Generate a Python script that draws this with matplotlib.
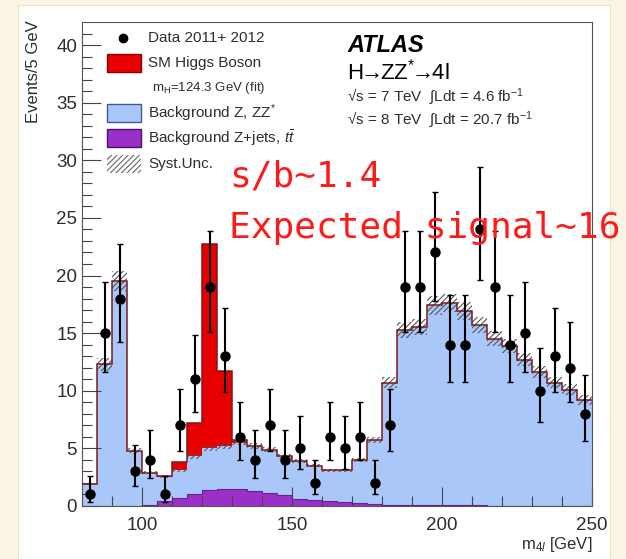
import numpy as np
import matplotlib
matplotlib.use("Agg")
import matplotlib.pyplot as plt
from matplotlib.patches import Rectangle
from matplotlib.lines import Line2D

plt.rcParams['font.family'] = ['Liberation Sans', 'DejaVu Sans']
plt.rcParams['mathtext.fontset'] = 'custom'
plt.rcParams['mathtext.rm'] = 'Liberation Sans'
plt.rcParams['mathtext.it'] = 'Liberation Sans:italic'
plt.rcParams['hatch.linewidth'] = 0.8

# m4l binning: 5 GeV bins from 80 to 250 GeV
edges = np.arange(80, 255, 5)

data = [1, 15, 18, 3, 4, 1, 7, 11, 19, 13,
        6, 4, 7, 4, 5, 2, 6, 5, 6, 2,
        7, 19, 19, 22, 14, 14, 24, 19, 14, 15,
        10, 13, 12, 8]

# top of the full background stack (Z+jets/ttbar + ZZ*)
bkg_total = [1.9, 12.3, 19.5, 4.8, 2.9, 2.5, 3.1, 4.3, 5.0, 5.2,
             5.5, 5.2, 4.9, 4.3, 3.9, 3.5, 3.1, 3.1, 4.0, 5.7,
             10.7, 15.3, 15.5, 17.4, 17.6, 16.9, 15.7, 14.5, 13.9, 12.7,
             11.6, 10.7, 10.1, 9.2]

zjets = [0.0, 0.0, 0.02, 0.03, 0.1, 0.4, 0.7, 1.05, 1.35, 1.45,
         1.45, 1.3, 1.15, 0.95, 0.65, 0.5, 0.4, 0.35, 0.25, 0.2,
         0.1, 0.1, 0.1, 0.1, 0.1, 0.1, 0.1, 0.03, 0.03, 0.03,
         0.03, 0.03, 0.03, 0.03]

signal = [0, 0, 0, 0, 0, 0.1, 0.7, 2.9, 17.7, 6.5,
          0.2, 0.05, 0, 0, 0, 0, 0, 0, 0, 0,
          0, 0, 0, 0, 0, 0, 0, 0, 0, 0,
          0, 0, 0, 0]

syst_frac = 0.045

c_red = '#e80000'
c_blue = '#a9c8f9'
c_purple = '#9a30c8'
c_outline = '#7a1a1a'
c_text = '#2e2e2e'

W, H = 626, 559


def px(x, y):
    return x / W, 1 - y / H


fig = plt.figure(figsize=(W / 100, H / 100), dpi=100)
fig.patch.set_facecolor('#faf5e3')
fig.patches.append(Rectangle((18 / W, 0), (610 - 18) / W, 1 - 5 / H,
                             transform=fig.transFigure, facecolor='white',
                             edgecolor='#ebe2c4', lw=0.8, zorder=-10))

ax = fig.add_axes([82 / W, 1 - 506 / H, (592 - 82) / W, (506 - 22) / H])

bkg = np.array(bkg_total)
zj = np.array(zjets)
tot = bkg + np.array(signal)
d = np.array(data, dtype=float)
centers = 0.5 * (edges[:-1] + edges[1:])

ax.stairs(zj, edges, fill=True, color=c_purple, zorder=1)
ax.stairs(bkg, edges, baseline=zj, fill=True, color=c_blue, zorder=1)
ax.stairs(tot, edges, baseline=bkg, fill=True, color=c_red, zorder=1)
ax.stairs(zj, edges, baseline=None, color='#6a1f8f', lw=0.8, zorder=2)
ax.stairs(bkg * (1 + syst_frac), edges, baseline=bkg * (1 - syst_frac),
          fill=True, facecolor='none', edgecolor='#555555', hatch='//////',
          lw=0, zorder=2)
ax.stairs(tot, edges, baseline=None, color=c_outline, lw=1.1, zorder=3)

# Poisson-style asymmetric errors on data
err_hi = 0.5 + np.sqrt(d + 0.25)
err_lo = -0.5 + np.sqrt(d + 0.25)
ax.errorbar(centers, d, yerr=[err_lo, err_hi], fmt='o', color='black',
            ms=6.5, elinewidth=1.5, capsize=2.5, capthick=1, zorder=5)

ax.set_xlim(80, 250)
ax.set_ylim(0, 42)
ax.set_xticks([100, 150, 200, 250])
ax.set_xticks(np.arange(80, 251, 10), minor=True)
ax.set_yticks(np.arange(0, 41, 5))
ax.set_yticks(np.arange(0, 42, 1), minor=True)
ax.tick_params(which='both', direction='in', top=False, right=False,
               colors='#444444', labelcolor=c_text, labelsize=13.5, width=0.8)
ax.tick_params(which='major', length=14)
ax.tick_params(which='minor', length=7)
ax.tick_params(axis='x', pad=8)
for s in ax.spines.values():
    s.set_color('#555555')
    s.set_linewidth(0.8)

fig.text(*px(33, 20), 'Events/5 GeV', rotation=90, ha='center', va='top',
         fontsize=12, color=c_text)
fig.text(*px(592, 544), r'm$_{4l}$ [GeV]', ha='right', va='center',
         fontsize=12, color=c_text)

# legend
fig.lines.append(Line2D([123 / W], [1 - 38 / H], marker='o', color='black',
                        ms=6, transform=fig.transFigure))
boxes = [(63, c_red, '#8a0000', 'SM Higgs Boson'),
         (113, c_blue, '#3a5a9a', r'Background Z, ZZ$^{*}$'),
         (138, c_purple, '#4a1070', r'Background Z+jets, $t\bar{t}$')]
for yc, fc, ec, label in boxes:
    x0, y0 = px(107, yc + 9)
    fig.patches.append(Rectangle((x0, y0), 34 / W, 18 / H, transform=fig.transFigure,
                                 facecolor=fc, edgecolor=ec, lw=1))
    fig.text(*px(148, yc), label, va='center', fontsize=11, color=c_text)
x0, y0 = px(107, 173)
fig.patches.append(Rectangle((x0, y0), 34 / W, 18 / H, transform=fig.transFigure,
                             facecolor='none', edgecolor='#666666', hatch='//////', lw=0))
fig.text(*px(148, 38), 'Data 2011+ 2012', va='center', fontsize=11, color=c_text)
fig.text(*px(152, 88), r'm$_{\mathrm{H}}$=124.3 GeV (fit)', va='center', fontsize=9.5,
         color=c_text)
fig.text(*px(148, 164), 'Syst.Unc.', va='center', fontsize=11, color=c_text)

# ATLAS label
fig.text(*px(347, 45), 'ATLAS', fontsize=17, fontweight='bold', fontstyle='italic',
         va='center', color='black')
fig.text(*px(347, 72), r'H$\!\!\rightarrow\!\!$ZZ$^{*}$$\!\!\rightarrow\!\!$4l', fontsize=16,
         va='center', color='black')
fig.text(*px(347, 97), r'√s = 7 TeV  ∫Ldt = 4.6 fb$^{-1}$', fontsize=11,
         va='center', color=c_text)
fig.text(*px(347, 120), r'√s = 8 TeV  ∫Ldt = 20.7 fb$^{-1}$', fontsize=11,
         va='center', color=c_text)

# slide annotations
fig.text(*px(229, 176), 's/b~1.4', fontsize=26, family='DejaVu Sans Mono',
         color='#ff1a1a', va='center')
fig.text(*px(229, 228), 'Expected signal~16', fontsize=26, family='DejaVu Sans Mono',
         color='#ff1a1a', va='center')

fig.savefig('out.png', dpi=100, facecolor=fig.get_facecolor())
